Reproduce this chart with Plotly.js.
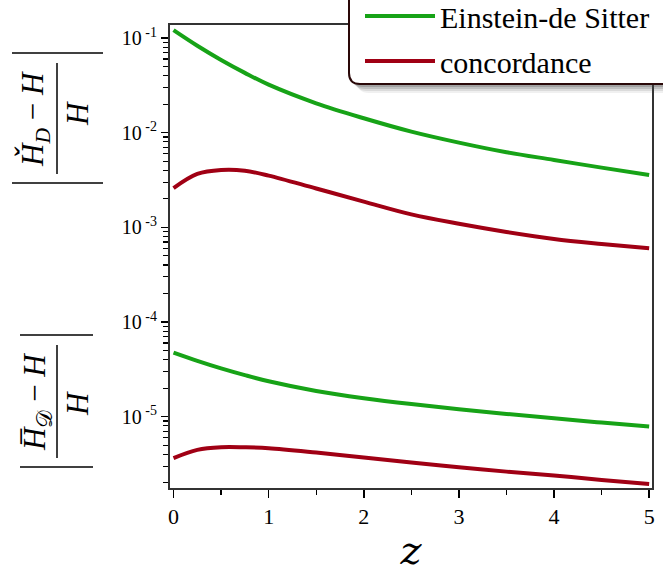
<!DOCTYPE html>
<html>
<head>
<meta charset="utf-8">
<script src="https://cdn.plot.ly/plotly-3.0.1.min.js"></script>
<style>
html,body{margin:0;padding:0;background:#fff;}
#chart{width:663px;height:573px;}
</style>
</head>
<body>
<div id="chart"></div>
<script>
// redshift samples
var z = [0, 0.25, 0.5, 0.75, 1, 1.5, 2, 2.5, 3, 3.5, 4, 4.5, 5];
// |(H_check_D - H)/H|
var edsCheck  = [0.121, 0.0828, 0.0586, 0.0428, 0.0321, 0.0204, 0.0142, 0.01026, 0.00785, 0.00621, 0.00515, 0.00427, 0.00357];
var concCheck = [0.00259, 0.00366, 0.00403, 0.00396, 0.00352, 0.00257, 0.00187, 0.00137, 0.00109, 0.000894, 0.000754, 0.000668, 0.000601];
// |(H_bar_D - H)/H|
var edsBar    = [4.75e-5, 3.89e-5, 3.24e-5, 2.75e-5, 2.37e-5, 1.87e-5, 1.57e-5, 1.36e-5, 1.20e-5, 1.07e-5, 9.64e-6, 8.67e-6, 7.86e-6];
var concBar   = [3.65e-6, 4.46e-6, 4.76e-6, 4.75e-6, 4.65e-6, 4.18e-6, 3.70e-6, 3.28e-6, 2.93e-6, 2.63e-6, 2.39e-6, 2.15e-6, 1.95e-6];
// tick labels
var xTickVals = [0, 1, 2, 3, 4, 5];
var xTickText = ['0', '1', '2', '3', '4', '5'];
var yTickVals = [1e-5, 1e-4, 1e-3, 1e-2, 1e-1];
var yTickText = ['10<sup> -5</sup>', '10<sup> -4</sup>', '10<sup> -3</sup>', '10<sup> -2</sup>', '10<sup> -1</sup>'];
var seriesNames = ['Einstein-de Sitter', 'concordance'];

var GREEN = '#17a317';
var RED = '#a00014';
var SERIF = 'Liberation Serif';
var SERIF_Z = 'DejaVu Serif';

var traces = [
  {x: z, y: edsCheck, name: seriesNames[0], legendgroup: 'eds', showlegend: true},
  {x: z, y: concCheck, name: seriesNames[1], legendgroup: 'conc', showlegend: true},
  {x: z, y: edsBar, name: seriesNames[0], legendgroup: 'eds', showlegend: false},
  {x: z, y: concBar, name: seriesNames[1], legendgroup: 'conc', showlegend: false}
].map(function (t, i) {
  t.type = 'scatter';
  t.mode = 'lines';
  t.line = {color: (i % 2 === 0) ? GREEN : RED, width: 4, shape: 'spline', smoothing: 1};
  t.hoverinfo = 'skip';
  return t;
});

// minor tick positions for the log axis (2..9 in each decade)
var minorVals = [];
for (var e = -6; e <= -1; e++) {
  for (var m = 2; m <= 9; m++) minorVals.push(m * Math.pow(10, e));
}

// helpers: pixel -> paper
var L = 170, R = 11, T = 25, B = 85, W = 663, H = 573;
var PW = W - L - R, PH = H - T - B;
function px(X) { return (X - L) / PW; }
function py(Y) { return (H - B - Y) / PH; }

function roundRect(x0, y0, x1, y1, r) {
  var rx = r / PW, ry = r / PH;
  var X0 = px(x0), X1 = px(x1), Y0 = py(y0), Y1 = py(y1);
  return 'M' + (X0 + rx) + ',' + Y0 +
    ' L' + (X1 - rx) + ',' + Y0 +
    ' Q' + X1 + ',' + Y0 + ' ' + X1 + ',' + (Y0 - ry) +
    ' L' + X1 + ',' + (Y1 + ry) +
    ' Q' + X1 + ',' + Y1 + ' ' + (X1 - rx) + ',' + Y1 +
    ' L' + (X0 + rx) + ',' + Y1 +
    ' Q' + X0 + ',' + Y1 + ' ' + X0 + ',' + (Y1 + ry) +
    ' L' + X0 + ',' + (Y0 - ry) +
    ' Q' + X0 + ',' + Y0 + ' ' + (X0 + rx) + ',' + Y0 + ' Z';
}

var shapes = [];
// legend shadow (fake blur)
[[9, 0.08], [7, 0.12], [5, 0.18], [3, 0.25]].forEach(function (s) {
  shapes.push({type: 'path', xref: 'paper', yref: 'paper', layer: 'above',
    path: roundRect(349 + s[0] - 1, -10, 690, 84 + s[0], 12),
    fillcolor: 'rgba(70,70,70,' + s[1] + ')', line: {width: 0}});
});
// legend box
shapes.push({type: 'path', xref: 'paper', yref: 'paper', layer: 'above',
  path: roundRect(349, -10, 690, 84, 11),
  fillcolor: '#ffffff', line: {color: '#2a0808', width: 2}});

// y label decorations (fraction bars and absolute value bars)
function hline(x0, x1, y) {
  return {type: 'line', xref: 'paper', yref: 'paper', x0: px(x0), x1: px(x1), y0: py(y), y1: py(y), line: {color: '#000', width: 1.5}};
}
function vline(x, y0, y1) {
  return {type: 'line', xref: 'paper', yref: 'paper', x0: px(x), x1: px(x), y0: py(y0), y1: py(y1), line: {color: '#000', width: 1.5}};
}
shapes.push(hline(12, 103, 53));
shapes.push(hline(12, 103, 183));
shapes.push(vline(57, 63, 174));
shapes.push(hline(20, 93, 335));
shapes.push(hline(20, 93, 467));
shapes.push(vline(57, 345, 458));

function ann(text, X, Y, size) {
  return {xref: 'paper', yref: 'paper', x: px(X), y: py(Y), text: text, showarrow: false,
    textangle: -90, xanchor: 'center', yanchor: 'middle',
    font: {family: SERIF, size: size, color: '#000'}};
}
var annotations = [
  ann('<i>Ȟ</i><sub><i>D</i></sub> − <i>H</i>', 35, 119, 31),
  ann('<i>H</i>', 77, 114, 31),
  ann('<i>H̅</i><sub>𝒟</sub> − <i>H</i>', 37, 402, 31),
  ann('<i>H</i>', 77, 404, 31)
];

var layout = {
  width: W, height: H,
  margin: {l: L, r: R, t: T, b: B, pad: 0, autoexpand: false},
  paper_bgcolor: '#ffffff', plot_bgcolor: '#ffffff',
  font: {family: SERIF, color: '#000'},
  showlegend: true,
  legend: {
    x: px(360), y: py(-10), xanchor: 'left', yanchor: 'top',
    bgcolor: 'rgba(0,0,0,0)', borderwidth: 0,
    font: {family: SERIF, size: 30, color: '#000'},
    itemwidth: 70, traceorder: 'grouped', tracegroupgap: 3
  },
  xaxis: {
    range: [-0.037, 5.03],
    tickvals: xTickVals, ticktext: xTickText,
    ticks: 'outside', ticklen: 8, tickwidth: 1.5, tickcolor: '#000',
    minor: {dtick: 0.5, ticks: 'outside', ticklen: 5, tickwidth: 1.2, tickcolor: '#000', showgrid: false},
    showline: true, linecolor: '#333', linewidth: 2, mirror: true,
    showgrid: false, zeroline: false,
    tickfont: {family: SERIF, size: 22, color: '#000'},
    title: {text: '<i>z</i>', font: {family: SERIF_Z, size: 40, color: '#000'}, standoff: 8}
  },
  yaxis: {
    type: 'log',
    range: [-5.753, -0.863],
    tickvals: yTickVals, ticktext: yTickText,
    ticks: 'outside', ticklen: 7, tickwidth: 1.5, tickcolor: '#000',
    minor: {tickmode: 'array', tickvals: minorVals, ticks: 'outside', ticklen: 5, tickwidth: 1.2, tickcolor: '#000', showgrid: false},
    showline: true, linecolor: '#333', linewidth: 2, mirror: true,
    showgrid: false, zeroline: false,
    tickfont: {family: SERIF, size: 20, color: '#000'}
  },
  shapes: shapes,
  annotations: annotations
};

Plotly.newPlot('chart', traces, layout, {displayModeBar: false, staticPlot: true});
</script>
</body>
</html>
